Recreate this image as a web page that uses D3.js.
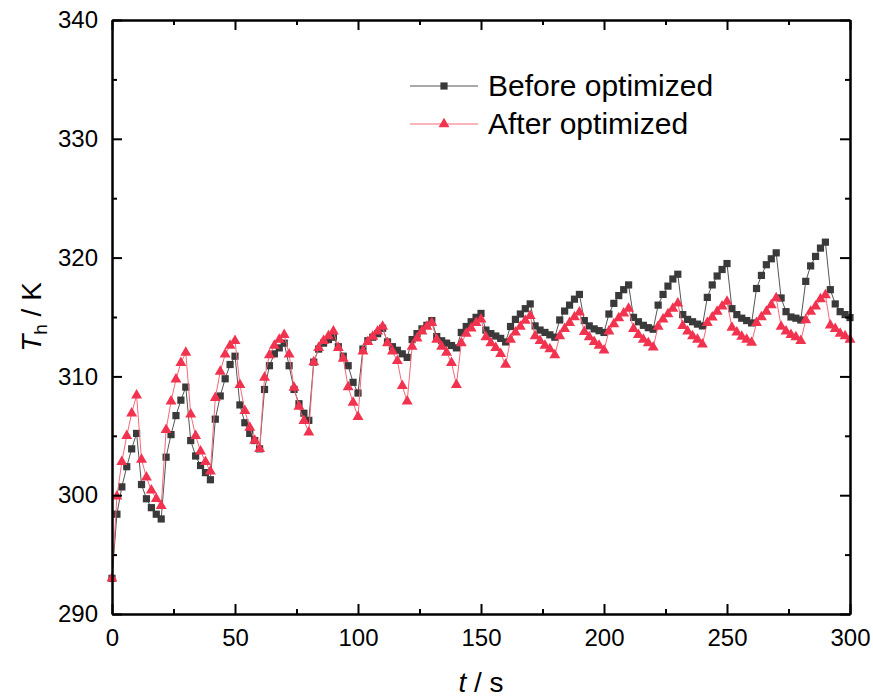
<!DOCTYPE html>
<html>
<head>
<meta charset="utf-8">
<script src="https://cdn.jsdelivr.net/npm/d3@7"></script>
<style>
  body { margin: 0; background: #fff; }
  svg { display: block; font-family: "Liberation Sans", Arial, sans-serif; }
</style>
</head>
<body>
<svg></svg>
<script>
// time in s, sampled every 2 s
var timeS = [0,2,4,6,8,10,12,14,16,18,20,22,24,26,28,30,32,34,36,38,40,42,44,46,48,50,
  52,54,56,58,60,62,64,66,68,70,72,74,76,78,80,82,84,86,88,90,92,94,96,98,100,
  102,104,106,108,110,112,114,116,118,120,122,124,126,128,130,132,134,136,138,140,
  142,144,146,148,150,152,154,156,158,160,162,164,166,168,170,172,174,176,178,180,
  182,184,186,188,190,192,194,196,198,200,202,204,206,208,210,212,214,216,218,220,
  222,224,226,228,230,232,234,236,238,240,242,244,246,248,250,252,254,256,258,260,
  262,264,266,268,270,272,274,276,278,280,282,284,286,288,290,292,294,296,298,300];

var beforeTh = [293.0,298.4,300.7,302.4,303.9,305.2,300.9,299.7,298.95,298.4,298.0,
  303.2,305.1,306.7,308.0,309.1,304.6,303.3,302.5,301.9,301.3,
  306.4,308.35,309.8,311.0,311.7,307.6,306.1,305.2,304.6,303.9,
  308.9,310.9,311.9,312.4,312.8,310.9,308.9,307.7,306.9,306.3,
  311.2,312.3,312.8,313.1,313.3,312.5,311.7,310.9,309.5,308.6,
  312.3,313.0,313.3,313.6,314.05,312.9,312.5,312.2,311.9,311.6,
  313.1,313.6,314.0,314.3,314.7,313.35,313.0,312.8,312.6,312.4,
  313.7,314.2,314.6,314.97,315.3,313.9,313.6,313.4,313.2,312.9,
  314.2,314.8,315.25,315.7,316.1,314.25,313.9,313.7,313.5,313.3,
  314.75,315.5,316.0,316.5,316.9,314.7,314.25,314.0,313.85,313.7,
  315.25,316.15,316.8,317.3,317.7,314.97,314.6,314.3,314.1,313.97,
  316.0,316.9,317.6,318.2,318.6,315.2,314.8,314.6,314.4,314.25,
  316.65,317.7,318.45,319.0,319.5,315.7,315.2,314.9,314.7,314.5,
  317.4,318.5,319.4,319.9,320.4,316.6,315.45,315.0,314.9,314.75,
  318.0,319.3,320.1,320.8,321.3,317.3,316.1,315.45,315.2,314.95];

var afterTh = [293.0,299.9,302.8,305.0,306.9,308.4,303.0,301.5,300.4,299.7,299.1,
  305.5,307.9,309.75,311.15,312.0,306.8,305.0,303.7,302.8,302.0,
  308.2,310.4,311.85,312.6,313.0,309.3,307.1,305.7,304.6,303.9,
  309.9,311.8,312.6,313.1,313.5,311.85,309.05,307.45,306.25,305.3,
  311.2,312.4,313.0,313.4,313.8,312.4,311.5,309.1,307.8,306.6,
  312.1,312.9,313.35,313.8,314.2,312.8,312.1,311.3,309.2,307.9,
  312.5,313.2,313.8,314.2,314.5,313.1,312.5,312.0,311.15,309.3,
  312.8,313.6,314.05,314.5,314.8,313.3,312.8,312.4,311.9,311.0,
  313.1,313.7,314.2,314.7,315.1,313.4,313.0,312.6,312.3,311.8,
  313.4,314.0,314.5,315.0,315.4,313.75,313.3,312.9,312.6,312.2,
  313.8,314.4,314.9,315.3,315.7,314.0,313.5,313.1,312.8,312.45,
  314.2,314.8,315.25,315.7,316.15,314.25,313.8,313.4,313.1,312.7,
  314.5,314.97,315.45,315.9,316.3,314.1,313.7,313.35,313.1,312.85,
  314.5,315.0,315.45,316.0,316.6,314.2,313.8,313.5,313.3,313.0,
  314.75,315.45,315.9,316.5,316.85,314.3,314.0,313.6,313.4,313.1];

var seriesNames = ["Before optimized", "After optimized"];
var xTicks = [0, 50, 100, 150, 200, 250, 300];
var xMinor = [25, 75, 125, 175, 225, 275];
var yTicks = [290, 300, 310, 320, 330, 340];
var yMinor = [295, 305, 315, 325, 335];

var svgWidth = 873, svgHeight = 697;
var margin = { top: 20, right: 23, bottom: 83, left: 112 };
var width = svgWidth - margin.left - margin.right;
var height = svgHeight - margin.top - margin.bottom;

var svg = d3.select("svg")
    .attr("width", svgWidth)
    .attr("height", svgHeight);

svg.append("rect")
    .attr("width", "100%")
    .attr("height", "100%")
    .attr("fill", "white");

var g = svg.append("g")
    .attr("transform", "translate(" + margin.left + "," + margin.top + ")");

var x = d3.scaleLinear().domain([0, 300]).range([0, width]);
var y = d3.scaleLinear().domain([290, 340]).range([height, 0]);

var series = [
    { name: seriesNames[0], values: beforeTh, line: "#555", fill: "#3a3a3a", symbol: d3.symbolSquare, size: 52 },
    { name: seriesNames[1], values: afterTh, line: "#f36a7a", fill: "#f2334f", symbol: d3.symbolTriangle, size: 52 }
];

var line = d3.line()
    .x(function (d, i) { return x(timeS[i]); })
    .y(function (d) { return y(d); });

series.forEach(function (s) {
    g.append("path")
        .datum(s.values)
        .attr("fill", "none")
        .attr("stroke", s.line)
        .attr("stroke-width", 1)
        .attr("d", line);

    g.selectAll(null)
        .data(s.values)
        .enter().append("path")
        .attr("transform", function (d, i) { return "translate(" + x(timeS[i]) + "," + y(d) + ")"; })
        .attr("d", d3.symbol().type(s.symbol).size(s.size))
        .attr("fill", s.fill);
});

// axes, ticks inward like the original
function styleAxis(sel) {
    sel.selectAll(".domain").attr("stroke", "#000").attr("stroke-width", 2);
    sel.selectAll(".tick line").attr("stroke", "#000").attr("stroke-width", 2);
    sel.selectAll("text").attr("font-size", 24).attr("fill", "#000")
        .attr("font-family", "'Liberation Sans', Arial, sans-serif");
}

g.append("g")
    .attr("transform", "translate(0," + height + ")")
    .call(d3.axisBottom(x).tickValues(xTicks).tickSize(-10).tickSizeOuter(0).tickPadding(15))
    .call(styleAxis);
g.append("g")
    .attr("transform", "translate(0," + height + ")")
    .call(d3.axisBottom(x).tickValues(xMinor).tickSize(-5).tickSizeOuter(0).tickFormat(""))
    .call(styleAxis);
g.append("g")
    .call(d3.axisTop(x).tickValues(xTicks).tickSize(-10).tickSizeOuter(0).tickFormat(""))
    .call(styleAxis);
g.append("g")
    .call(d3.axisTop(x).tickValues(xMinor).tickSize(-5).tickSizeOuter(0).tickFormat(""))
    .call(styleAxis);

g.append("g")
    .call(d3.axisLeft(y).tickValues(yTicks).tickSize(-10).tickSizeOuter(0).tickPadding(14))
    .call(styleAxis);
g.append("g")
    .call(d3.axisLeft(y).tickValues(yMinor).tickSize(-5).tickSizeOuter(0).tickFormat(""))
    .call(styleAxis);
g.append("g")
    .attr("transform", "translate(" + width + ",0)")
    .call(d3.axisRight(y).tickValues(yTicks).tickSize(-10).tickSizeOuter(0).tickFormat(""))
    .call(styleAxis);
g.append("g")
    .attr("transform", "translate(" + width + ",0)")
    .call(d3.axisRight(y).tickValues(yMinor).tickSize(-5).tickSizeOuter(0).tickFormat(""))
    .call(styleAxis);

// axis titles
var xTitle = svg.append("text")
    .attr("x", margin.left + width / 2)
    .attr("y", 692)
    .attr("text-anchor", "middle")
    .attr("font-size", 28)
    .attr("fill", "#000");
xTitle.append("tspan").attr("font-style", "italic").text("t");
xTitle.append("tspan").text(" / s");

var yTitle = svg.append("text")
    .attr("transform", "translate(41," + (margin.top + height / 2) + ") rotate(-90)")
    .attr("text-anchor", "middle")
    .attr("font-size", 28)
    .attr("fill", "#000");
yTitle.append("tspan").attr("font-style", "italic").text("T");
yTitle.append("tspan").attr("font-size", 19).attr("dy", 6).text("h");
yTitle.append("tspan").attr("dy", -6).text(" / K");

// legend
var legend = svg.append("g");
series.forEach(function (s, i) {
    var ly = 86 + i * 38;
    legend.append("line")
        .attr("x1", 410).attr("x2", 478)
        .attr("y1", ly).attr("y2", ly)
        .attr("stroke", s.line).attr("stroke-width", 1);
    legend.append("path")
        .attr("transform", "translate(444," + ly + ")")
        .attr("d", d3.symbol().type(s.symbol).size(s.size))
        .attr("fill", s.fill);
    legend.append("text")
        .attr("x", 488).attr("y", ly + 10)
        .attr("font-size", 30)
        .attr("fill", "#000")
        .text(s.name);
});
</script>
</body>
</html>
